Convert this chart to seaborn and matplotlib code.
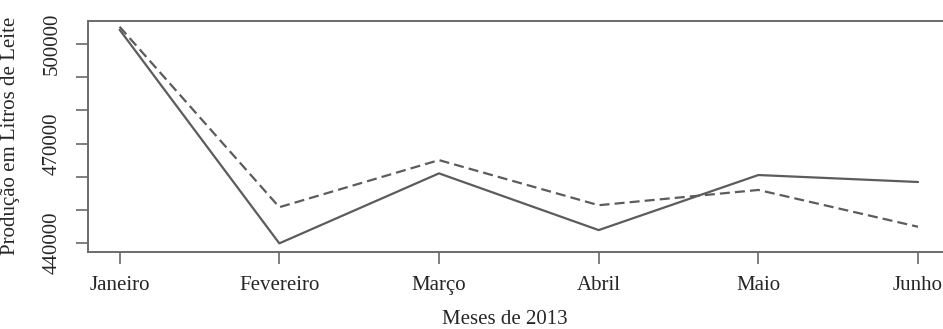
import matplotlib
matplotlib.use("Agg")
import matplotlib.pyplot as plt
import seaborn as sns
import pandas as pd

# Dados
meses = ["Janeiro", "Fevereiro", "Março", "Abril", "Maio", "Junho"]
producao = [504300, 439900, 461000, 443900, 460500, 458400]
estimado = [505200, 450800, 465000, 451400, 456000, 444900]
yticks = [440000, 450000, 460000, 470000, 480000, 490000, 500000]
ylabels = ["440000", "", "", "470000", "", "", "500000"]

df = pd.DataFrame({
    "mes": list(range(len(meses))) * 2,
    "valor": producao + estimado,
    "serie": ["producao"] * len(meses) + ["estimado"] * len(meses),
})

sns.set_theme(style="white")
plt.rcParams["font.family"] = ["Liberation Serif", "DejaVu Serif"]

fig = plt.figure(figsize=(9.43, 3.29), dpi=100)
ax = fig.add_axes([0.093, 0.234, 0.9144, 0.703])

cor = "#5c5c5c"
sns.lineplot(data=df, x="mes", y="valor", style="serie",
             style_order=["producao", "estimado"],
             dashes={"producao": "", "estimado": (4.5, 2.3)},
             color=cor, linewidth=1.6, legend=False, ax=ax)

ax.set_xlim(-0.2, 5.2)
ax.set_ylim(437290, 507020)
ax.set_xticks(range(len(meses)))
ax.set_xticklabels(meses)
ax.set_yticks(yticks)
ax.set_yticklabels(ylabels, rotation=90, va="center")

for s in ax.spines.values():
    s.set_color("#6a6a6a")
    s.set_linewidth(1.4)

txt = "#262626"
ax.tick_params(axis="both", which="major", direction="out", length=8.5,
               width=1.2, color="#6a6a6a", labelsize=15, labelcolor=txt)
ax.tick_params(axis="x", pad=9)
ax.tick_params(axis="y", pad=10)
ax.tick_params(left=True, bottom=True)

ax.set_xlabel("Meses de 2013", fontsize=15, color=txt)
ax.set_ylabel("Produção em Litros de Leite", fontsize=15, color=txt)
ax.xaxis.set_label_coords(0.484, -0.25)
ax.yaxis.set_label_coords(-0.078, 0.5)

fig.savefig("out.png", dpi=100)
